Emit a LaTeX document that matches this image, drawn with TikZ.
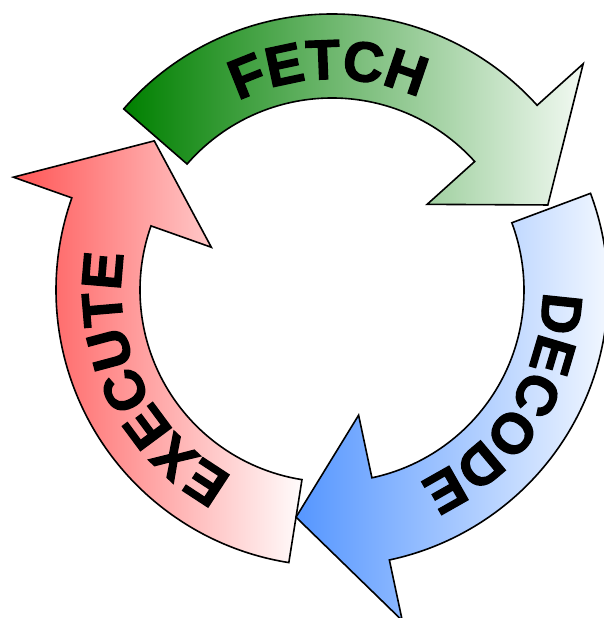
\documentclass[tikz,border=0pt]{standalone}
\usepackage{fontspec}
\setmainfont{Liberation Sans}
\newfontfamily\cyclefamily{Liberation Sans Bold}[FakeBold=2.5]
\usetikzlibrary{decorations.text}

\definecolor{fetchdark}{RGB}{0,128,0}
\definecolor{fetchlight}{RGB}{242,249,242}
\definecolor{decodedark}{RGB}{85,150,255}
\definecolor{decodelight}{RGB}{250,252,255}
\definecolor{executedark}{RGB}{255,85,85}
\definecolor{executelight}{RGB}{255,252,252}

\newcommand{\cyclefont}{\cyclefamily\fontsize{56}{60}\selectfont}

\tikzset{
  cyclearrow/.style={draw=black, line width=1.6pt},
  fetcharrow/.style={cyclearrow, left color=fetchdark, right color=fetchlight},
  decodearrow/.style={cyclearrow, left color=decodedark, right color=decodelight},
  executearrow/.style={cyclearrow, left color=executedark, right color=executelight},
  steplabel/.style={decorate, decoration={text along path, text align=center,
      text format delimiters={|}{|}, text={|\cyclefont|#1}}}
}

\begin{document}
\begin{tikzpicture}[x=1pt,y=1pt]
    \useasboundingbox (-332,-328) rectangle (271,290);

    \filldraw[executearrow] (261:276) arc[start angle=261, end angle=160.5, radius=276]
      -- (160.5:338) -- (140:232) -- (160.5:128) -- (160.5:192)
      arc[start angle=160.5, end angle=261, radius=192] -- cycle;
    \filldraw[decodearrow] (20.5:276) arc[start angle=20.5, end angle=-78, radius=276]
      -- (-78:338) -- (-99:230) -- (-78:128) -- (-78:192)
      arc[start angle=-78, end angle=20.5, radius=192] -- cycle;
    \filldraw[fetcharrow] (139:276) arc[start angle=139, end angle=42, radius=276]
      -- (42:338) -- (21.5:232) -- (42:128) -- (42:192)
      arc[start angle=42, end angle=139, radius=192] -- cycle;

    \path[steplabel=FETCH] (139:211) arc[start angle=139, end angle=43, radius=211];
    \path[steplabel=DECODE] (16:211) arc[start angle=16, end angle=-82, radius=211];
    \path[steplabel=EXECUTE] (255:211) arc[start angle=255, end angle=157, radius=211];
  \end{tikzpicture}
\end{document}
